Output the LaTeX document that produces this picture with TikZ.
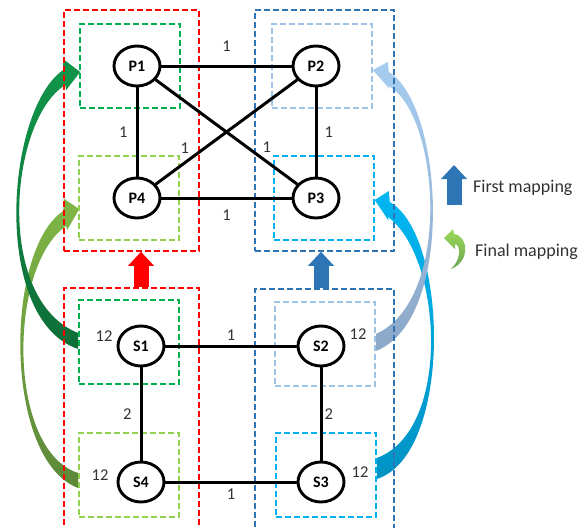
\documentclass[tikz,border=0pt]{standalone}
\usepackage{fontspec}
\setmainfont{Carlito}
\definecolor{MapRed}{HTML}{FF0000}
\definecolor{MapBlue}{HTML}{2E75B6}
\definecolor{BoxGreen}{HTML}{00B050}
\definecolor{BoxLime}{HTML}{92D050}
\definecolor{BoxSky}{HTML}{9DC3E6}
\definecolor{BoxCyan}{HTML}{00B0F0}
\definecolor{LabelGray}{HTML}{333333}
\definecolor{GreenTop}{HTML}{11964A}
\definecolor{GreenBot}{HTML}{0E6E38}
\definecolor{OliveTop}{HTML}{80B646}
\definecolor{OliveBot}{HTML}{5C8838}
\definecolor{SkyTop}{HTML}{A6CDF0}
\definecolor{SkyBot}{HTML}{8CA7C7}
\definecolor{CyanTop}{HTML}{00B6F2}
\definecolor{CyanBot}{HTML}{0093C4}
\definecolor{LimeTop}{HTML}{9BD65A}
\definecolor{LimeBot}{HTML}{6AA84F}
\usetikzlibrary{shapes.geometric, arrows.meta, positioning, calc, backgrounds}

\begin{document}
\begin{tikzpicture}[
      x=1pt, y=-1pt, on grid,
      every node/.style={font=\fontsize{16.5}{19}\selectfont, text=LabelGray, inner sep=2pt},
      proc/.style={ellipse, draw=black, fill=white, line width=2.9pt, minimum width=46pt,
         minimum height=40pt, inner sep=0pt, text=black, font=\fontsize{16}{19}\selectfont\bfseries},
      sub/.style={draw, line width=1.6pt, dash pattern=on 6pt off 3pt,
         minimum width=100pt, minimum height=84pt, inner sep=0pt},
      grp/.style={draw, line width=1.6pt, dash pattern=on 6pt off 3pt, inner sep=0pt},
      link/.style={line width=3pt, black},
      up/.style={line width=15pt, -{Triangle[length=14pt, width=26pt, line width=0pt]}},
      lgd/.style={anchor=west, font=\fontsize{18}{21}\selectfont}
   ]
      \path[use as bounding box, clip] (0,0) rectangle (582,528);

      % processes and sites
      \node[proc] (P1) at (137,66) {P1};
      \node[proc] (P2) [right=179pt of P1] {P2};
      \node[proc] (P4) [below=132pt of P1] {P4};
      \node[proc] (P3) [right=179pt of P4] {P3};
      \node[proc] (S1) at (141,346) {S1};
      \node[proc] (S2) [right=180pt of S1] {S2};
      \node[proc] (S4) [below=136pt of S1] {S4};
      \node[proc] (S3) [right=180pt of S4] {S3};

      % dashed boxes
      \node[sub, draw=BoxGreen] (bP1) [left=7pt of P1] {};
      \node[sub, draw=BoxLime] (bP4) [left=8pt of P4] {};
      \node[sub, draw=BoxSky] (bP2) [right=6pt of P2] {};
      \node[sub, draw=BoxCyan] (bP3) [right=8pt of P3] {};
      \node[sub, draw=BoxGreen] (bS1) [above left=4pt and 12pt of S1] {};
      \node[sub, draw=BoxLime] (bS4) [above left=7pt and 12pt of S4] {};
      \node[sub, draw=BoxSky] (bS2) [above right=2pt and 4pt of S2] {};
      \node[sub, draw=BoxCyan] (bS3) [above right=7pt and 5pt of S3] {};
      \node[grp, draw=MapRed, minimum width=135pt, minimum height=241pt] (gP) at (131.5,130.5) {};
      \node[grp, draw=MapBlue, minimum width=139pt, minimum height=241pt] (gPb) at (324.5,130.5) {};
      \node[grp, draw=MapRed, minimum width=135pt, minimum height=264pt] (gS) at (131.5,420) {};
      \node[grp, draw=MapBlue, minimum width=139pt, minimum height=264pt] (gSb) at (324.5,421) {};

      % weights
      \node (wS1) [above left=10pt and 37pt of S1] {12};
      \node (wS4) [above left=7pt and 41pt of S4] {12};
      \node (wS2) [above right=12pt and 37pt of S2] {12};
      \node (wS3) [above right=10pt and 39pt of S3] {12};

      \draw[link] (P1) -- node[above=11pt] (eP12) {1} (P2);
      \draw[link] (P1) -- node[left=6pt] (eP14) {1} (P4);
      \draw[link] (P2) -- node[right=5pt] (eP23) {1} (P3);
      \draw[link] (P4) -- node[below=8pt] (eP43) {1} (P3);
      \draw[link] (P4) -- node[pos=0.26, above left] (eP42) {1} (P2);
      \draw[link] (P1) -- node[pos=0.73, above right] (eP13) {1} (P3);
      \draw[link] (S1) -- node[above=2pt] (eS12) {1} (S2);
      \draw[link] (S1) -- node[left=6pt] (eS14) {2} (S4);
      \draw[link] (S2) -- node[right] (eS23) {2} (S3);
      \draw[link] (S4) -- node[below=3pt] (eS43) {1} (S3);

      \draw[up, MapRed] (gS.north -| S1) -- (gP.south -| S1);
      \draw[up, MapBlue] (gSb.north -| S2) -- (gPb.south -| S2);

      % final mapping arrows
      \begin{scope}[on background layer]
         \shade[top color=OliveTop, bottom color=OliveBot]
            ($(bP4.west)+(1,11)$) -- ++(-15,-10) -- ++(-1,12)
            .. controls +(-59,39) and +(-75,-28) .. ($(bS4.west)+(0,13)$) -- ++(0,-15)
            .. controls +(-72,-23) and +(-58,39) .. ($(bP4.west)+(-12,28)$) -- ++(1,4) -- cycle;
         \shade[top color=GreenTop, bottom color=GreenBot]
            ($(bP1.west)+(1,6)$) -- ++(-17,-13) -- ++(0,11)
            .. controls +(-58,40) and +(-87,-29) .. ($(bS1.west)+(0,7)$) -- ++(0,-16)
            .. controls +(-84,-33) and +(-56,35) .. ($(bP1.west)+(-14,19)$) -- ++(1,5) -- cycle;
         \shade[top color=CyanTop, bottom color=CyanBot]
            ($(bP3.east)+(0,2)$) -- ++(14,-9) -- ++(1,11)
            .. controls +(59,33) and +(76,-24) .. ($(bS3.east)+(0,4)$) -- ++(0,-21)
            .. controls +(76,-28) and +(54,38) .. ($(bP3.east)+(13,19)$) -- ++(1,4) -- cycle;
         \shade[top color=SkyTop, bottom color=SkyBot]
            ($(bP2.east)+(0,4)$) -- ++(15,-8) -- ++(1,10)
            .. controls +(55,33) and +(80,-31) .. ($(bS2.east)+(0,7)$) -- ++(0,-17)
            .. controls +(77,-34) and +(51,29) .. ($(bP2.east)+(16,20)$) -- ++(1,3) -- cycle;
      \end{scope}

      % legend
      \draw[up, MapBlue] (454,205) -- (454,165);
      \node[lgd] (lgFirst) at (471,188) {First mapping};
      \shade[top color=LimeTop, bottom color=LimeBot]
         (444,238) -- (453,229) -- (454,234) .. controls (469,236) and (470,262) .. (451,269)
         .. controls (461,260) and (461,245) .. (455,244) -- (455,249) -- cycle;
      \node[lgd] (lgFinal) at (473,252) {Final mapping};
   \end{tikzpicture}
\end{document}
